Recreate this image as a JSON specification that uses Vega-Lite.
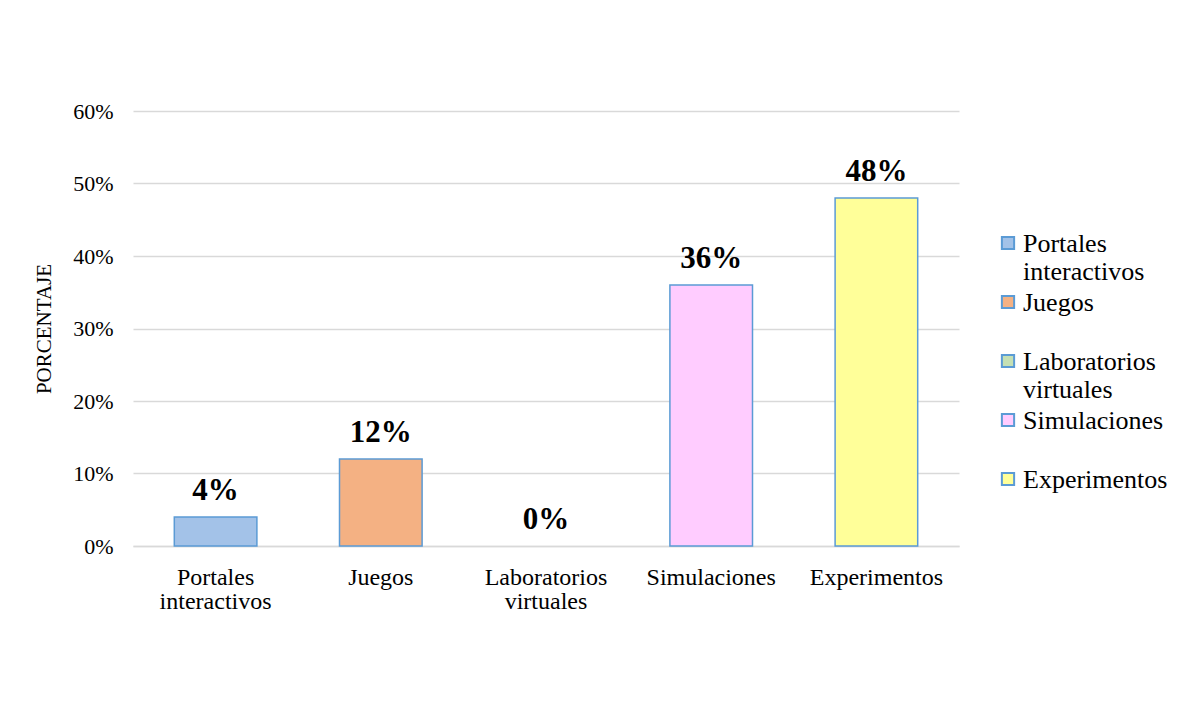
{
  "$schema": "https://vega.github.io/schema/vega-lite/v6.json",
  "width": 826,
  "height": 435,
  "autosize": {"type": "none"},
  "padding": {"left": 133, "top": 111, "right": 239, "bottom": 156},
  "background": "white",
  "config": {"view": {"stroke": null}},
  "data": {
    "values": [
      {"recurso": "Portales interactivos", "porcentaje": 0.04},
      {"recurso": "Juegos", "porcentaje": 0.12},
      {"recurso": "Laboratorios virtuales", "porcentaje": 0.0},
      {"recurso": "Simulaciones", "porcentaje": 0.36},
      {"recurso": "Experimentos", "porcentaje": 0.48}
    ]
  },
  "encoding": {
    "x": {
      "field": "recurso",
      "type": "nominal",
      "sort": null,
      "scale": {"paddingInner": 0.5, "paddingOuter": 0.25},
      "axis": {
        "title": null,
        "labelAngle": 0,
        "labelExpr": "split(datum.label, ' ')",
        "labelFont": "Liberation Serif",
        "labelFontSize": 24,
        "labelColor": "#000000",
        "labelPadding": 19,
        "labelLineHeight": 24,
        "labelBaseline": "top",
        "ticks": false,
        "domain": true,
        "domainColor": "#d9d9d9",
        "domainWidth": 1.5
      }
    },
    "y": {
      "field": "porcentaje",
      "type": "quantitative",
      "scale": {"domain": [0, 0.6], "nice": false},
      "axis": {
        "title": "PORCENTAJE",
        "titleFont": "Liberation Serif",
        "titleFontSize": 21,
        "titleFontWeight": "normal",
        "titleColor": "#000000",
        "titlePadding": 18,
        "format": ".0%",
        "values": [0, 0.1, 0.2, 0.3, 0.4, 0.5, 0.6],
        "labelFont": "Liberation Serif",
        "labelFontSize": 22,
        "labelColor": "#000000",
        "labelPadding": 20,
        "ticks": false,
        "domain": false,
        "grid": true,
        "gridColor": "#d9d9d9",
        "gridWidth": 1.5
      }
    }
  },
  "layer": [
    {
      "mark": {"type": "bar", "stroke": "#5b9bd5", "strokeWidth": 1.5},
      "encoding": {
        "strokeOpacity": {
          "condition": {"test": "datum.porcentaje == 0", "value": 0},
          "value": 1
        },
        "fill": {
          "field": "recurso",
          "type": "nominal",
          "sort": null,
          "scale": {
            "domain": ["Portales interactivos", "Juegos", "Laboratorios virtuales", "Simulaciones", "Experimentos"],
            "range": ["#a3c2e8", "#f4b183", "#c5e0b4", "#ffccff", "#ffff99"]
          },
          "legend": {
            "title": null,
            "orient": "none",
            "legendX": 862,
            "legendY": 119,
            "symbolType": "square",
            "symbolSize": 150,
            "symbolStrokeColor": "#5b9bd5",
            "symbolStrokeWidth": 2,
            "symbolOpacity": 1,
            "labelExpr": "indexof(datum.label, ' ') > 0 ? split(datum.label, ' ') : [datum.label, ' ']",
            "labelFont": "Liberation Serif",
            "labelFontSize": 26,
            "labelColor": "#000000",
            "labelLineHeight": 27,
            "labelOffset": 2,
            "labelBaseline": "top",
            "rowPadding": 4,
            "labelLimit": 300,
            "encode": {"labels": {"update": {"dy": {"value": -12}}}}
          }
        }
      }
    },
    {
      "mark": {
        "type": "text",
        "baseline": "bottom",
        "dy": -10,
        "font": "Liberation Serif",
        "fontSize": 31,
        "fontWeight": "bold",
        "color": "#000000"
      },
      "encoding": {
        "text": {"field": "porcentaje", "type": "quantitative", "format": ".0%"}
      }
    }
  ]
}
